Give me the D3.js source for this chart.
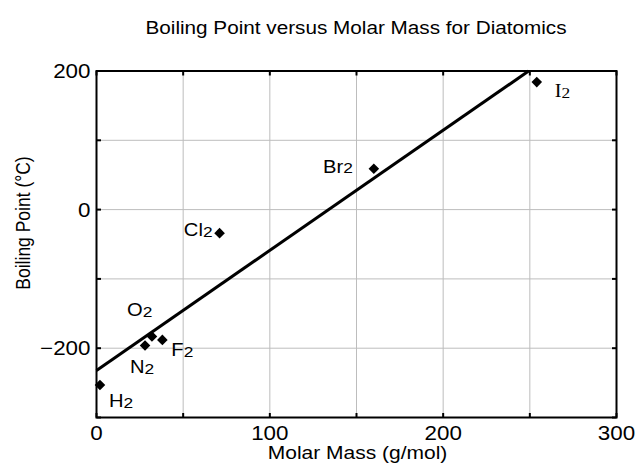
<!DOCTYPE html>
<html>
<head>
<meta charset="utf-8">
<script src="https://cdn.jsdelivr.net/npm/d3@7"></script>
<style>
  body { margin: 0; background: #fff; }
  svg { display: block; font-family: "Liberation Sans", Arial, sans-serif; }
</style>
</head>
<body>
<div id="chart"></div>
<script>
// data
const molecules = ['H', 'N', 'O', 'F', 'Cl', 'Br', 'I'];
const molarMass = [2, 28, 32, 38, 71, 160, 254];
const boilingPoint = [-253, -196, -183, -188, -34, 59, 184];

const xTicks = [0, 100, 200, 300];
const yTicks = [-200, 0, 200];

// label placement relative to each marker (dx, baseline dy, anchor)
const labelPos = [
    [9, 22.5, 'start'],
    [-15, 28, 'start'],
    [-25, -20, 'start'],
    [9, 16.5, 'start'],
    [-7, 3, 'end'],
    [-21, 4, 'end'],
    [18, 15, 'start']
];

const W = 636, H = 467;
const margin = { top: 71, right: 19.5, bottom: 49.5, left: 96.5 };
const width = W - margin.left - margin.right;
const height = H - margin.top - margin.bottom;

// the reference text is drawn a little wider than normal
const SX = 1.12;
const stretch = (px, py) => `translate(${px},${py}) scale(${SX},1)`;

const svg = d3.select('#chart').append('svg')
    .attr('width', W)
    .attr('height', H);

svg.append('text')
    .attr('transform', stretch(356, 33.5))
    .attr('text-anchor', 'middle')
    .attr('font-size', 18.5)
    .text('Boiling Point versus Molar Mass for Diatomics');

const g = svg.append('g')
    .attr('transform', `translate(${margin.left},${margin.top})`);

const x = d3.scaleLinear().domain([0, 300]).range([0, width]);
const y = d3.scaleLinear().domain([-300, 200]).range([height, 0]);

// grid
g.append('g').selectAll('line')
    .data(d3.range(50, 300, 50))
    .join('line')
    .attr('x1', d => x(d)).attr('x2', d => x(d))
    .attr('y1', 0).attr('y2', height)
    .attr('stroke', '#bdbdbd').attr('stroke-width', 1);

g.append('g').selectAll('line')
    .data(d3.range(-200, 200, 100))
    .join('line')
    .attr('y1', d => y(d)).attr('y2', d => y(d))
    .attr('x1', 0).attr('x2', width)
    .attr('stroke', '#bdbdbd').attr('stroke-width', 1);

// inward ticks on all sides
const tickLen = 4.5;
const xMinor = d3.range(0, 301, 50);
const yMinor = d3.range(-300, 201, 100);
const axisStyle = sel => sel.attr('stroke', '#000').attr('stroke-width', 2);

g.append('g').selectAll('line').data(xMinor).join('line')
    .attr('x1', d => x(d)).attr('x2', d => x(d))
    .attr('y1', height).attr('y2', height - tickLen).call(axisStyle);
g.append('g').selectAll('line').data(xMinor).join('line')
    .attr('x1', d => x(d)).attr('x2', d => x(d))
    .attr('y1', 0).attr('y2', tickLen).call(axisStyle);
g.append('g').selectAll('line').data(yMinor).join('line')
    .attr('y1', d => y(d)).attr('y2', d => y(d))
    .attr('x1', 0).attr('x2', tickLen).call(axisStyle);
g.append('g').selectAll('line').data(yMinor).join('line')
    .attr('y1', d => y(d)).attr('y2', d => y(d))
    .attr('x1', width).attr('x2', width - tickLen).call(axisStyle);

// tick labels
g.append('g').selectAll('text').data(xTicks).join('text')
    .attr('transform', d => stretch(x(d), height + 22.5))
    .attr('text-anchor', 'middle')
    .attr('font-size', 20)
    .text(d => d3.format('d')(d));

g.append('g').selectAll('text').data(yTicks).join('text')
    .attr('transform', d => stretch(-6, y(d) + 7))
    .attr('text-anchor', 'end')
    .attr('font-size', 20)
    .text(d => d < 0 ? '\u2212' + Math.abs(d) : d);

// axis titles
svg.append('text')
    .attr('transform', stretch(margin.left + x(150) + 1, 459))
    .attr('text-anchor', 'middle')
    .attr('font-size', 18.75)
    .text('Molar Mass (g/mol)');

svg.append('text')
    .attr('transform', `translate(30,223) rotate(-90) scale(1,${SX})`)
    .attr('text-anchor', 'middle')
    .attr('font-size', 17.5)
    .text('Boiling Point (\u00B0C)');

// least-squares line through the data
const mx = d3.mean(molarMass), my = d3.mean(boilingPoint);
const sxy = d3.sum(molarMass, (d, i) => (d - mx) * (boilingPoint[i] - my));
const sxx = d3.sum(molarMass, d => (d - mx) * (d - mx));
const slope = sxy / sxx;
const intercept = my - slope * mx;
const xEnd = (200 - intercept) / slope;

g.append('line')
    .attr('x1', x(0)).attr('y1', y(intercept))
    .attr('x2', x(xEnd)).attr('y2', y(200))
    .attr('stroke', '#000')
    .attr('stroke-width', 3);

// markers
const diamond = d3.symbol().type(d3.symbolSquare).size(56);
g.append('g').selectAll('path')
    .data(molecules)
    .join('path')
    .attr('d', diamond)
    .attr('transform', (d, i) => `translate(${x(molarMass[i])},${y(boilingPoint[i])}) rotate(45)`)
    .attr('fill', '#000');

// labels
const labels = g.append('g').selectAll('text')
    .data(molecules)
    .join('text')
    .attr('transform', (d, i) => stretch(x(molarMass[i]) + labelPos[i][0], y(boilingPoint[i]) + labelPos[i][1]))
    .attr('text-anchor', (d, i) => labelPos[i][2])
    .attr('font-size', 18)
    .attr('font-family', d => d === 'I' ? '"Liberation Serif", serif' : null);

labels.append('tspan').text(d => d);
labels.append('tspan').attr('font-size', 15.5).attr('dy', 0.5).text('2');

// frame
g.append('rect')
    .attr('width', width)
    .attr('height', height)
    .attr('fill', 'none')
    .attr('stroke', '#000')
    .attr('stroke-width', 2);
</script>
</body>
</html>
